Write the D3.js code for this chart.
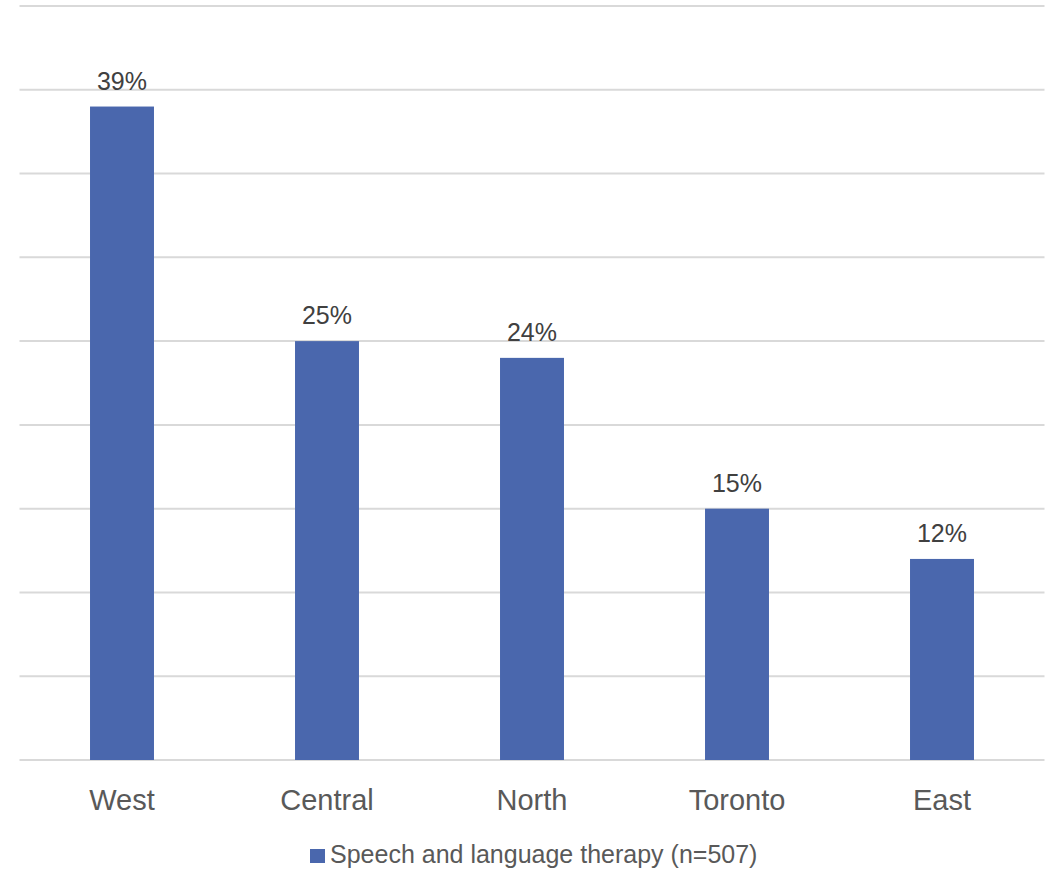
<!DOCTYPE html>
<html>
<head>
<meta charset="utf-8">
<script src="https://cdn.jsdelivr.net/npm/d3@7"></script>
<style>
  html, body { margin: 0; padding: 0; background: #fff; }
  svg { display: block; font-family: "Liberation Sans", Arial, sans-serif; }
</style>
</head>
<body>
<svg id="chart" width="1048" height="869"></svg>
<script>
// Share of respondents using speech and language therapy, by region
const regions = ["West", "Central", "North", "Toronto", "East"];
const shares = [39, 25, 24, 15, 12];
const seriesName = "Speech and language therapy (n=507)";
const gridTicks = [0, 5, 10, 15, 20, 25, 30, 35, 40, 45];

const svg = d3.select("#chart");
const plot = { left: 19.5, right: 1044.5, top: 6, bottom: 760 };

const x = d3.scaleBand()
  .domain(regions)
  .range([plot.left, plot.right])
  .paddingInner(0.688)
  .paddingOuter(0.344);

const y = d3.scaleLinear()
  .domain([0, 45])
  .range([plot.bottom, plot.top]);

// horizontal gridlines
svg.append("g")
  .selectAll("line")
  .data(gridTicks)
  .join("line")
  .attr("x1", plot.left)
  .attr("x2", plot.right)
  .attr("y1", d => y(d))
  .attr("y2", d => y(d))
  .attr("stroke", "#d9d9d9")
  .attr("stroke-width", 2);

// bars
svg.append("g")
  .selectAll("rect")
  .data(regions)
  .join("rect")
  .attr("x", d => x(d))
  .attr("width", x.bandwidth())
  .attr("y", (d, i) => y(shares[i]))
  .attr("height", (d, i) => y(0) - y(shares[i]))
  .attr("fill", "#4a67ad");

// value labels
svg.append("g")
  .selectAll("text")
  .data(regions)
  .join("text")
  .attr("x", d => x(d) + x.bandwidth() / 2)
  .attr("y", (d, i) => y(shares[i]) - 17)
  .attr("text-anchor", "middle")
  .attr("font-size", 25)
  .attr("fill", "#404040")
  .text((d, i) => shares[i] + "%");

// category axis
const xAxis = svg.append("g")
  .attr("transform", `translate(0,${plot.bottom})`)
  .call(d3.axisBottom(x).tickSize(0).tickPadding(29));
xAxis.select(".domain").remove();
xAxis.selectAll("text")
  .attr("font-size", 29)
  .attr("fill", "#595959")
  .attr("font-family", "Liberation Sans, Arial, sans-serif");

// legend
const legend = svg.append("g").attr("transform", "translate(310,849)");
legend.append("rect")
  .attr("width", 15)
  .attr("height", 14)
  .attr("fill", "#4a67ad");
legend.append("text")
  .attr("x", 20)
  .attr("y", 14)
  .attr("font-size", 25)
  .attr("fill", "#595959")
  .text(seriesName);
</script>
</body>
</html>
